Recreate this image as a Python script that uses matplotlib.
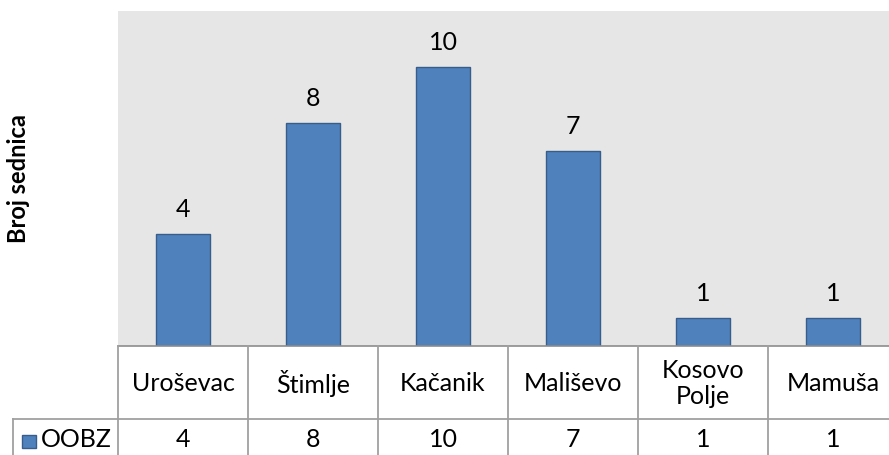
import matplotlib
matplotlib.use("Agg")
import matplotlib.pyplot as plt
from matplotlib.patches import Rectangle

# data
categories = ["Uroševac", "Štimlje", "Kačanik", "Mališevo", "Kosovo\nPolje", "Mamuša"]
values = [4, 8, 10, 7, 1, 1]
series_name = "OOBZ"

plt.rcParams["font.family"] = ["Lato", "DejaVu Sans"]

W, H = 889, 456
fig = plt.figure(figsize=(W / 100, H / 100), dpi=100)

bar_color = "#4f81bd"
edge_color = "#385d8a"
grid_color = "#a0a0a0"

# plot area (pixel coords -> fraction)
left, right, top, bottom = 118, 898, 12, 347
ax = fig.add_axes([left / W, (H - bottom) / H, (right - left) / W, (bottom - top) / H])
ax.set_facecolor("#e6e6e6")
x = list(range(len(categories)))
ax.bar(x, values, width=0.41, color=bar_color, edgecolor=edge_color, linewidth=1)
ax.set_xlim(-0.5, len(categories) - 0.5)
ax.set_ylim(0, 12)
for xi, v in zip(x, values):
    ax.annotate(str(v), (xi, v), xytext=(0, 10), textcoords="offset points",
                ha="center", va="bottom", fontsize=18)
ax.set_xticks([])
ax.set_yticks([])
for s in ["top", "right", "left"]:
    ax.spines[s].set_visible(False)
ax.spines["bottom"].set_color("#8c8c8c")
ax.spines["bottom"].set_linewidth(1.2)

fig.text(19 / W, 1 - 179 / H, "Broj sednica", rotation=90, ha="center", va="center",
         fontsize=17, fontweight="bold")

# data table below the plot
row1, row2, row_end = 347, 420, 470
tab = fig.add_axes([left / W, 0, (right - left) / W, (H - bottom) / H])
tab.set_xlim(-0.5, len(categories) - 0.5)
tab.set_ylim(H, bottom)
tab.axis("off")
lw = 1.3
for i in range(len(categories) + 1):
    tab.plot([i - 0.5, i - 0.5], [row1, row_end], color=grid_color, lw=lw, clip_on=False)
tab.plot([-0.5, len(categories) - 0.5], [row2, row2], color=grid_color, lw=lw, clip_on=False)
# legend cell
leg_left = -0.5 - (left - 13) / 130
tab.plot([leg_left, -0.5], [row2, row2], color=grid_color, lw=lw, clip_on=False)
tab.plot([leg_left, leg_left], [row2, row_end], color=grid_color, lw=lw, clip_on=False)
key_x = leg_left + 9 / 130
tab.add_patch(Rectangle((key_x, 449), 14 / 130, -13, facecolor=bar_color,
                        edgecolor=edge_color, lw=1, clip_on=False))
tab.text(key_x + 19 / 130, 440, series_name, ha="left", va="center", fontsize=18,
         clip_on=False)

for xi, cat, v in zip(x, categories, values):
    tab.text(xi, (row1 + row2) / 2, cat, ha="center", va="center", fontsize=18,
             linespacing=1.15)
    tab.text(xi, 440, str(v), ha="center", va="center", fontsize=18)

fig.savefig("out.png", dpi=100)
